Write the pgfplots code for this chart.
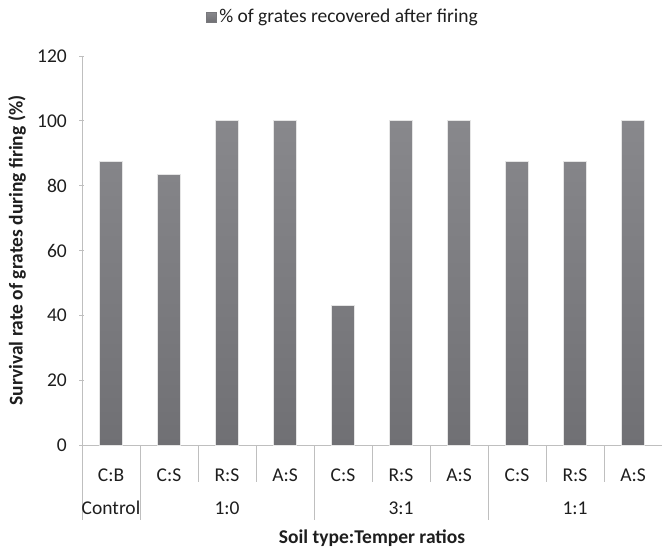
\documentclass[border=0pt]{standalone}
\usepackage{pgfplots}
\pgfplotsset{compat=1.18}
\usepackage{fontspec}
\setmainfont{Carlito}
\definecolor{barc}{RGB}{120,120,124}
\definecolor{bartop}{RGB}{136,136,140}
\definecolor{barbot}{RGB}{112,112,116}
\definecolor{axc}{RGB}{191,191,191}
\definecolor{txt}{RGB}{30,30,30}
\begin{document}
\fontsize{19.5pt}{23pt}\selectfont
\begin{tikzpicture}
\useasboundingbox (0,0) rectangle (662pt,547pt);
\begin{axis}[
    at={(82pt,102pt)}, anchor=south west,
    scale only axis, width=580pt, height=389pt,
    xmin=-0.5, xmax=9.5, ymin=0, ymax=120,
    ytick={0,20,...,120},
    xtick=data,
    xticklabels={C:B,C:S,R:S,A:S,C:S,R:S,A:S,C:S,R:S,A:S},
    xticklabel style={anchor=center, yshift=-25pt, text=txt},
    yticklabel style={text=txt, xshift=-6pt},
    major x tick style={draw=none},
    major y tick style={draw=axc, line width=0.8pt},
    tick align=outside, major tick length=5pt,
    axis x line=bottom, axis y line=left,
    axis line style={draw=axc, line width=0.8pt, -},
    /pgf/number format/assume math mode=true,
    ylabel={\bfseries Survival rate of grates during firing (\%)},
    ylabel style={text=txt, at={([xshift=-65pt]rel axis cs:0,0.5)}, anchor=center},
    ybar, bar width=23pt, bar shift=0pt,
    clip=false,
    legend style={at={(0.45,1.10)}, anchor=center, draw=none, fill=none,
        text=txt, legend cell align=left},
    legend image code/.code={\fill[barc] (-2pt,-5pt) rectangle (8pt,5pt);},
]
\addplot[draw=black!10, line width=1pt, top color=bartop, bottom color=barbot] coordinates {
    (0,87.5) (1,83.3) (2,100) (3,100) (4,42.9)
    (5,100) (6,100) (7,87.5) (8,87.5) (9,100)
};
\addlegendentry{\% of grates recovered after firing}
% category separators
\foreach \s in {1.5,2.5,4.5,5.5,7.5,8.5}{
    \edef\tmp{\noexpand\draw[axc, line width=0.8pt] (axis cs:\s,0) -- ([yshift=-37pt]axis cs:\s,0);}\tmp
}
\foreach \s in {-0.5,0.5,3.5,6.5,9.5}{
    \edef\tmp{\noexpand\draw[axc, line width=0.8pt] (axis cs:\s,0) -- ([yshift=-75pt]axis cs:\s,0);}\tmp
}
\node[text=txt] at ([yshift=-63pt]axis cs:0,0) {Control};
\node[text=txt] at ([yshift=-63pt]axis cs:2,0) {1:0};
\node[text=txt] at ([yshift=-63pt]axis cs:5,0) {3:1};
\node[text=txt] at ([yshift=-63pt]axis cs:8,0) {1:1};
\node[text=txt, font=\bfseries] at ([yshift=-93pt]axis cs:4.5,0) {Soil type:Temper ratios};
\end{axis}
\end{tikzpicture}
\end{document}
